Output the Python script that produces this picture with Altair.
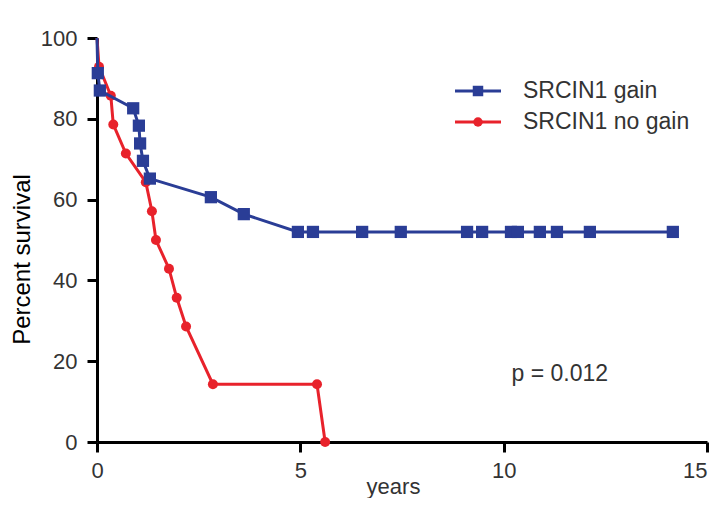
import altair as alt
import pandas as pd

# Kaplan-Meier style curves
gain_years = [0, 0.02, 0.07, 0.89, 1.03, 1.06, 1.13, 1.30, 2.80, 3.61, 4.94, 5.31,
              6.52, 7.47, 9.10, 9.47, 10.18, 10.35, 10.89, 11.31, 12.12, 14.16]
gain_surv = [100, 91.3, 87.0, 82.6, 78.3, 73.9, 69.6, 65.2, 60.6, 56.4, 52.0, 52.0,
             52.0, 52.0, 52.0, 52.0, 52.0, 52.0, 52.0, 52.0, 52.0, 52.0]
gain_marker = [0] + [1] * 21

nogain_years = [0, 0.05, 0.34, 0.40, 0.71, 1.20, 1.35, 1.45, 1.77, 1.96, 2.19, 2.85, 5.41, 5.61]
nogain_surv = [100, 92.9, 85.7, 78.6, 71.4, 64.3, 57.1, 50.0, 42.9, 35.7, 28.6, 14.3, 14.3, 0]
nogain_marker = [0] + [1] * 13

series_names = ["SRCIN1 gain", "SRCIN1 no gain"]
series_colors = ["#2a3d96", "#e8222b"]
x_ticks = [0, 5, 10, 15]
y_ticks = [0, 20, 40, 60, 80, 100]
p_text = "p = 0.012"

FONT = "Liberation Sans"

gain_df = pd.DataFrame({"years": gain_years, "surv": gain_surv, "marker": gain_marker,
                        "order": range(len(gain_years))})
nogain_df = pd.DataFrame({"years": nogain_years, "surv": nogain_surv, "marker": nogain_marker,
                          "order": range(len(nogain_years))})

x_enc = alt.X("years:Q",
              scale=alt.Scale(domain=[0, 15], nice=False, zero=False),
              axis=alt.Axis(values=x_ticks, title="years", labelPadding=8,
                            labelAlign=alt.condition(alt.datum.value == 15,
                                                     alt.value("right"), alt.value("center")),
                            titleFontSize=22, titleColor="#333333",
                            titleX=296, titleY=51, titleBaseline="alphabetic", titleAlign="center",
                            labelFlush=False))
y_enc = alt.Y("surv:Q",
              scale=alt.Scale(domain=[0, 100], nice=False),
              axis=alt.Axis(values=y_ticks, title="Percent survival", labelPadding=10,
                            titleFontSize=24, titleColor="black",
                            titleX=-75, titleY=221, titleBaseline="middle", titleAlign="center",
                            titleAngle=270))


def curve(df, color, shape, size):
    line = alt.Chart(df).mark_line(color=color, strokeWidth=3).encode(
        x=x_enc, y=y_enc, order="order:Q")
    pts = alt.Chart(df).transform_filter(alt.datum.marker == 1).mark_point(
        shape=shape, filled=True, color=color, opacity=1, size=size).encode(
        x=x_enc, y=y_enc)
    return line + pts


red = curve(nogain_df, series_colors[1], "circle", 100)
blue = curve(gain_df, series_colors[0], "square", 150)

ptxt = alt.Chart(pd.DataFrame({"years": [11.38], "surv": [16.8], "t": [p_text]})).mark_text(
    font=FONT, fontSize=23, color="#333333", align="center", baseline="middle").encode(
    x=x_enc, y=y_enc, text="t:N")

# manual legend
leg_layers = []
leg_y = [53, 84]
leg_shapes = ["square", "circle"]
leg_sizes = [110, 90]
for i in range(2):
    d = pd.DataFrame({"label": [series_names[i]]})
    leg_layers.append(alt.Chart(d).mark_rule(color=series_colors[i], strokeWidth=3).encode(
        x=alt.value(358), x2=alt.value(404), y=alt.value(leg_y[i])))
    leg_layers.append(alt.Chart(d).mark_point(shape=leg_shapes[i], filled=True, opacity=1,
                                              color=series_colors[i], size=leg_sizes[i]).encode(
        x=alt.value(381), y=alt.value(leg_y[i])))
    leg_layers.append(alt.Chart(d).mark_text(font=FONT, fontSize=23, color="#333333",
                                             align="left", baseline="middle").encode(
        x=alt.value(426), y=alt.value(leg_y[i]), text="label:N"))

chart = alt.layer(red, blue, ptxt, *leg_layers).properties(
    width=610, height=404,
    autosize=alt.AutoSizeParams(type="none"),
    padding={"left": 89, "top": 30, "right": 4, "bottom": 56},
).configure(
    background="white",
    view=alt.ViewConfig(stroke=None),
    axis=alt.AxisConfig(grid=False, domainColor="black", domainWidth=3,
                        tickColor="black", tickWidth=3, tickSize=10,
                        labelFont=FONT, labelFontSize=22, labelColor="#333333",
                        titleFont=FONT, titleFontWeight="normal"),
)

chart.save("out.html", embed_options={"renderer": "svg", "actions": False})
